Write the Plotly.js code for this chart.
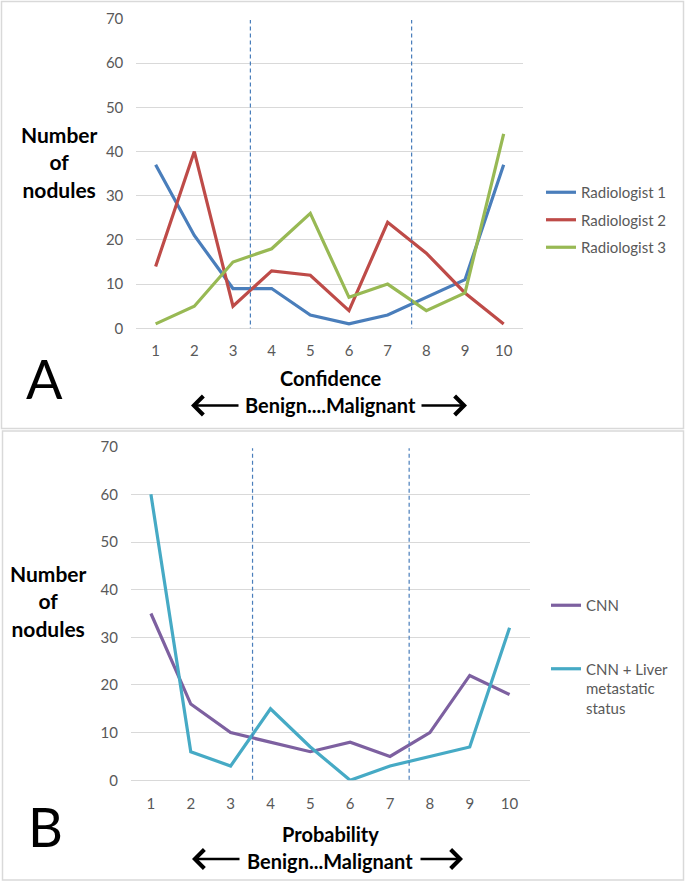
<!DOCTYPE html>
<html>
<head>
<meta charset="utf-8">
<script src="https://cdn.plot.ly/plotly-3.0.1.min.js"></script>
<style>
  html, body { margin: 0; padding: 0; background: #fff; }
  #chart { width: 685px; height: 881px; }
</style>
</head>
<body>
<div id="chart"></div>
<script>
// scores 1..10
var scores = [1, 2, 3, 4, 5, 6, 7, 8, 9, 10];

// panel A - radiologists (confidence)
var radiologist1 = [37, 21, 9, 9, 3, 1, 3, 7, 11, 37];
var radiologist2 = [14, 40, 5, 13, 12, 4, 24, 17, 8, 1];
var radiologist3 = [1, 5, 15, 18, 26, 7, 10, 4, 8, 44];

// panel B - CNN (probability)
var cnn = [35, 16, 10, 8, 6, 8, 5, 10, 22, 18];
var cnnLiver = [60, 6, 3, 15, 7, 0, 3, 5, 7, 32];

// dashed cut-offs
var cutsA = [3.45, 7.62];
var cutsB = [3.55, 7.48];

var W = 685, H = 881;
function px(x) { return x / W; }
function py(y) { return 1 - y / H; }

var font = 'Lato, "Open Sans", sans-serif';
var gridCol = '#d9d9d9';

function line(y, name, color, xa, ya, leg) {
  return {
    x: scores, y: y, name: name,
    type: 'scatter', mode: 'lines',
    line: {color: color, width: 3.2},
    xaxis: xa, yaxis: ya,
    legend: leg, legendgroup: name
  };
}

var data = [
  line(radiologist1, 'Radiologist 1', '#4a7ebb', 'x', 'y', 'legend'),
  line(radiologist2, 'Radiologist 2', '#be4b48', 'x', 'y', 'legend'),
  line(radiologist3, 'Radiologist 3', '#98b954', 'x', 'y', 'legend'),
  line(cnn, 'CNN', '#7d60a0', 'x2', 'y2', 'legend2'),
  line(cnnLiver, 'CNN + Liver<br>metastatic<br>status', '#46aac5', 'x2', 'y2', 'legend2')
];

function xax(d0, d1, anchor, standoff) {
  return {
    domain: [d0, d1], anchor: anchor,
    range: [0.5, 10.5], tickvals: scores,
    showgrid: false, zeroline: false, showline: false,
    ticks: '', ticklabelstandoff: standoff,
    tickfont: {family: font, size: 15, color: '#595959'},
    fixedrange: true
  };
}
function yax(d0, d1, anchor) {
  return {
    domain: [d0, d1], anchor: anchor,
    range: [0, 70], dtick: 10,
    showgrid: true, gridcolor: gridCol, gridwidth: 1,
    zeroline: true, zerolinecolor: gridCol, zerolinewidth: 1,
    showline: false, ticks: '', ticklabelstandoff: 12,
    tickfont: {family: font, size: 15, color: '#595959'},
    fixedrange: true
  };
}

var shapes = [
  // panel frames
  {type: 'rect', xref: 'paper', yref: 'paper', x0: px(1.5), x1: px(683.5), y0: py(428.5), y1: py(1.5),
   line: {color: gridCol, width: 1.5}},
  {type: 'rect', xref: 'paper', yref: 'paper', x0: px(2.5), x1: px(683.5), y0: py(880), y1: py(431),
   line: {color: gridCol, width: 1.5}}
];
cutsA.forEach(function (c) {
  shapes.push({type: 'line', xref: 'x', yref: 'y', x0: c, x1: c, y0: -0.7, y1: 69.8,
    line: {color: '#4a7ebb', width: 1.2, dash: '4px,3px'}});
});
cutsB.forEach(function (c) {
  shapes.push({type: 'line', xref: 'x2', yref: 'y2', x0: c, x1: c, y0: 0.1, y1: 69.7,
    line: {color: '#4a7ebb', width: 1.2, dash: '4px,3px'}});
});

function txt(x, y, t, size, bold) {
  return {xref: 'paper', yref: 'paper', x: px(x), y: py(y), text: bold ? '<b>' + t + '</b>' : t,
    showarrow: false, xanchor: 'center', yanchor: 'middle',
    font: {family: font, size: size, color: '#000'}};
}
function arrow(xTip, xTail, y) {
  return {xref: 'paper', yref: 'paper', x: px(xTip), y: py(y), ax: xTail - xTip, ay: 0,
    text: '', showarrow: true, arrowhead: 4, arrowsize: 1.4, arrowwidth: 2.6, arrowcolor: '#000'};
}

var annotations = [
  txt(59, 162, 'Number<br>of<br>nodules', 21, true),
  txt(330, 378, 'Confidence', 20, true),
  txt(330, 405, 'Benign....Malignant', 20, true),
  arrow(191, 240, 405.5),
  arrow(467, 420, 405.5),
  txt(44, 378, 'A', 54, false),

  txt(49, 601, 'Number<br>of<br>nodules', 21, true),
  txt(330, 834, 'Probability', 20, true),
  txt(330, 861, 'Benign...Malignant', 20, true),
  arrow(192, 241, 859),
  arrow(463, 419, 859),
  txt(45, 826, 'B', 54, false)
];

var layout = {
  width: W, height: H,
  margin: {l: 0, r: 0, t: 0, b: 0},
  paper_bgcolor: '#fff', plot_bgcolor: '#fff',
  showlegend: true,
  xaxis: xax(px(136.3), px(523), 'y', 12),
  yaxis: yax(py(328.3), py(19), 'x'),
  xaxis2: xax(px(131), px(529.5), 'y2', 13),
  yaxis2: yax(py(780.3), py(446.7), 'x2'),
  legend: {
    x: px(541), y: py(176), xanchor: 'left', yanchor: 'top',
    traceorder: 'grouped', tracegroupgap: 5,
    font: {family: font, size: 15, color: '#595959'},
    bgcolor: 'rgba(0,0,0,0)', itemwidth: 30
  },
  legend2: {
    x: px(546), y: py(589), xanchor: 'left', yanchor: 'top',
    traceorder: 'grouped', tracegroupgap: 41, valign: 'top',
    font: {family: font, size: 15, color: '#595959'},
    bgcolor: 'rgba(0,0,0,0)', itemwidth: 30
  },
  shapes: shapes,
  annotations: annotations
};

Plotly.newPlot('chart', data, layout, {displayModeBar: false, staticPlot: true});
</script>
</body>
</html>
